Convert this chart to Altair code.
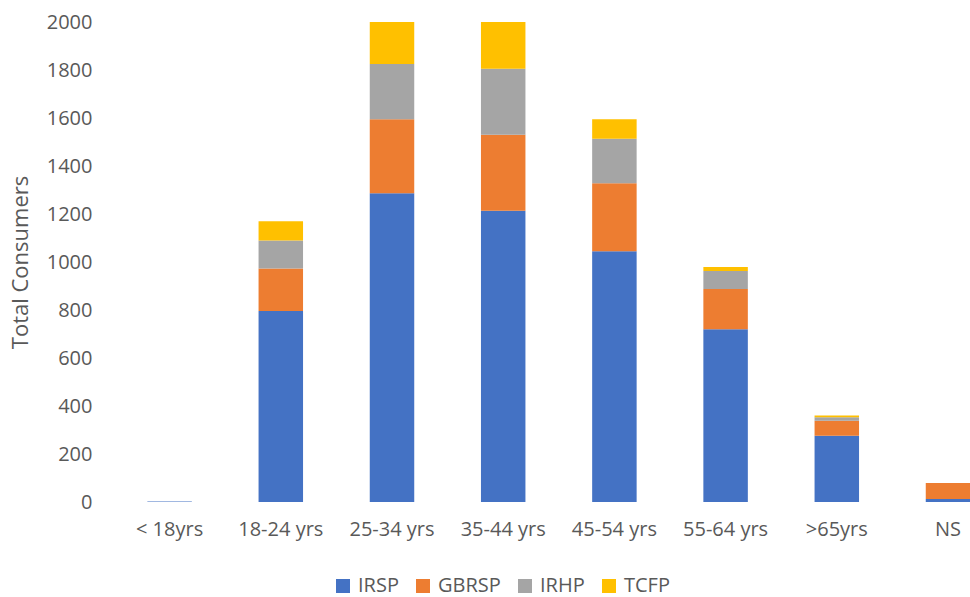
import altair as alt
import pandas as pd

categories = ["< 18yrs", "18-24 yrs", "25-34 yrs", "35-44 yrs", "45-54 yrs", "55-64 yrs", ">65yrs", "NS"]
series = ["IRSP", "GBRSP", "IRHP", "TCFP"]
irsp = [2, 796, 1286, 1214, 1045, 720, 276, 12]
gbrsp = [0, 177, 309, 316, 283, 168, 63, 67]
irhp = [0, 117, 230, 275, 186, 75, 14, 0]
tcfp = [0, 80, 175, 195, 81, 16, 7, 0]
colors = ["#4472C4", "#ED7D31", "#A5A5A5", "#FFC000"]
y_ticks = [0, 200, 400, 600, 800, 1000, 1200, 1400, 1600, 1800, 2000]

rows = []
for s_i, (name, vals) in enumerate(zip(series, [irsp, gbrsp, irhp, tcfp])):
    for cat, v in zip(categories, vals):
        rows.append({"Age": cat, "Series": name, "Value": v, "order": s_i})
df = pd.DataFrame(rows)

FONT = "Open Sans"
TXT = "#595959"

chart = alt.Chart(df).mark_bar(clip=True).encode(
    x=alt.X("Age:N", sort=categories,
            scale=alt.Scale(domain=categories, range=[0, 889.6], paddingInner=0.6, paddingOuter=0.3),
            axis=alt.Axis(title=None, labelAngle=0, domain=False, ticks=False, grid=False,
                          labelFont=FONT, labelFontSize=20, labelColor=TXT, labelPadding=17)),
    y=alt.Y("Value:Q", stack="zero",
            scale=alt.Scale(domain=[0, 2000], nice=False),
            axis=alt.Axis(title="Total Consumers", values=y_ticks, format="d",
                          domain=False, ticks=False, grid=False,
                          labelFont=FONT, labelFontSize=20, labelColor=TXT, labelPadding=22,
                          titleFont=FONT, titleFontSize=22, titleColor=TXT, titleFontWeight="normal",
                          titlePadding=14)),
    color=alt.Color("Series:N",
                    scale=alt.Scale(domain=series, range=colors),
                    legend=alt.Legend(title=None, orient="none", legendX=219, legendY=554,
                                      direction="horizontal", symbolType="square", symbolSize=196,
                                      symbolStrokeWidth=0, labelFont=FONT, labelFontSize=20,
                                      labelColor=TXT, columnPadding=14, labelOffset=5)),
    order=alt.Order("order:Q", sort="ascending"),
).properties(
    width=856, height=480,
    autosize=alt.AutoSizeParams(type="none"),
    padding={"left": 114, "top": 22, "right": 0, "bottom": 95},
).configure_view(stroke=None)

chart.save("out.html", embed_options={"renderer": "svg", "actions": False})
